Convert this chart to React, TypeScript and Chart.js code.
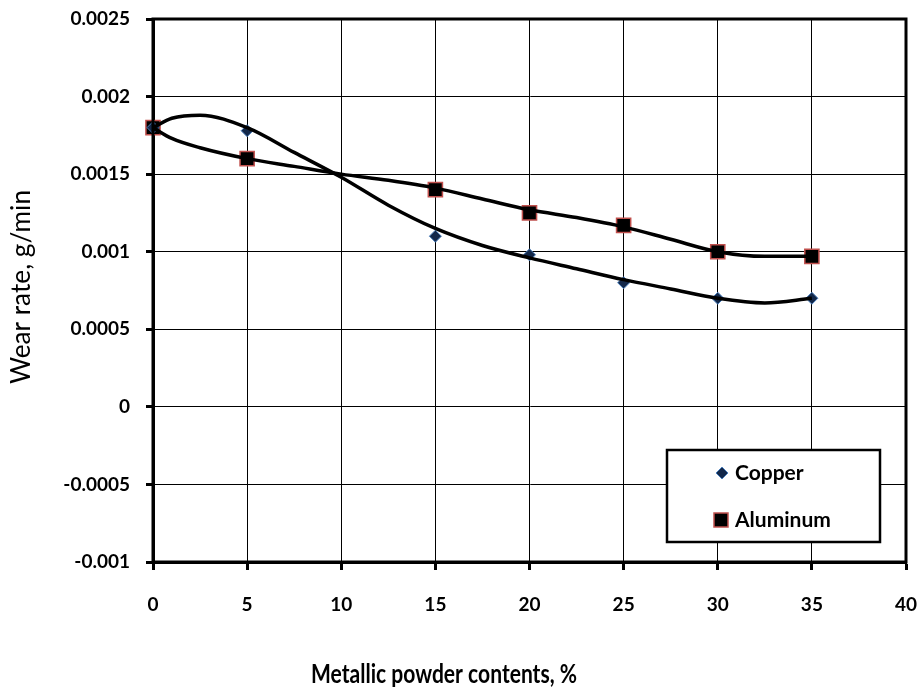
import React, { useEffect, useRef } from 'react';
import { Chart, registerables } from 'chart.js';

Chart.register(...registerables);

// Measured data points
const xValues = [0, 5, 15, 20, 25, 30, 35];
const copperValues = [0.0018, 0.00178, 0.0011, 0.00098, 0.0008, 0.0007, 0.0007];
const aluminumValues = [0.0018, 0.0016, 0.0014, 0.00125, 0.00117, 0.001, 0.00097];

// Trendline curves
const trendX = [0, 1, 2.5, 5, 7.5, 10, 12.5, 15, 17.5, 20, 22.5, 25, 27.5, 30, 32.5, 35];
const copperTrend = [0.0018, 0.00186, 0.00188, 0.0018, 0.00164, 0.00148, 0.0013, 0.00115, 0.00104, 0.00096, 0.00089, 0.00082, 0.00076, 0.0007, 0.00067, 0.0007];
const aluminumTrend = [0.0018, 0.00173, 0.00167, 0.0016, 0.00155, 0.0015, 0.00146, 0.00141, 0.00134, 0.00127, 0.00122, 0.00116, 0.00108, 0.001, 0.00097, 0.00097];

// Axis ticks
const xTicks = [0, 5, 10, 15, 20, 25, 30, 35, 40];
const yTicks = [-0.001, -0.0005, 0, 0.0005, 0.001, 0.0015, 0.002, 0.0025];
const yTickLabels = ['-0.001', '-0.0005', '0', '0.0005', '0.001', '0.0015', '0.002', '0.0025'];

const seriesLabels = ['Copper', 'Aluminum'];
const xTitle = 'Metallic powder contents, %';
const yTitle = 'Wear rate, g/min';

const FONT = 'Lato, "Open Sans", sans-serif';

function fittedText(ctx: any, text: string, font: string, cx: number, cy: number, targetW: number, rot: number) {
  ctx.save();
  ctx.font = font;
  const w = ctx.measureText(text).width;
  const s = targetW / w;
  ctx.translate(cx, cy);
  ctx.rotate(rot);
  ctx.scale(s, 1);
  ctx.textAlign = 'center';
  ctx.textBaseline = 'middle';
  ctx.fillStyle = '#000';
  ctx.fillText(text, 0, 0);
  ctx.restore();
}

const frameAndLegend = {
  id: 'frameAndLegend',
  afterDraw(chart: any) {
    const { ctx, chartArea } = chart;
    ctx.save();
    ctx.strokeStyle = '#000';
    ctx.lineWidth = 3;
    ctx.strokeRect(chartArea.left, chartArea.top, chartArea.right - chartArea.left, chartArea.bottom - chartArea.top);

    // legend box
    const lx = 667, ly = 450, lw = 213, lh = 92;
    ctx.fillStyle = '#fff';
    ctx.fillRect(lx, ly, lw, lh);
    ctx.lineWidth = 2.5;
    ctx.strokeRect(lx, ly, lw, lh);

    // copper marker
    const cx = 722, cy = 473;
    ctx.beginPath();
    ctx.moveTo(cx, cy - 6);
    ctx.lineTo(cx + 6, cy);
    ctx.lineTo(cx, cy + 6);
    ctx.lineTo(cx - 6, cy);
    ctx.closePath();
    ctx.fillStyle = '#13284a';
    ctx.fill();
    ctx.lineWidth = 1;
    ctx.strokeStyle = '#4a7ebb';
    ctx.stroke();

    // aluminum marker
    ctx.fillStyle = '#000';
    ctx.fillRect(714, 513, 14, 14);
    ctx.strokeStyle = '#c0504d';
    ctx.lineWidth = 1.5;
    ctx.strokeRect(714, 513, 14, 14);

    ctx.fillStyle = '#000';
    ctx.font = `bold 21px ${FONT}`;
    ctx.textAlign = 'left';
    ctx.textBaseline = 'middle';
    ctx.fillText(seriesLabels[0], 735, cy);
    ctx.fillText(seriesLabels[1], 735, 520);
    ctx.restore();

    // axis titles
    fittedText(ctx, xTitle, `bold 26px ${FONT}`, 444, 675, 266, 0);
    fittedText(ctx, yTitle, `26px ${FONT}`, 22, 287, 194, -Math.PI / 2);
  },
};

export default function App() {
  const ref = useRef<HTMLCanvasElement>(null);

  useEffect(() => {
    if (!ref.current) return;
    const chart = new Chart(ref.current, {
      type: 'scatter',
      data: {
        datasets: [
          {
            label: 'Copper trend',
            data: trendX.map((x, i) => ({ x, y: copperTrend[i] })),
            showLine: true,
            borderColor: '#000',
            borderWidth: 3.5,
            pointRadius: 0,
            cubicInterpolationMode: 'monotone',
          },
          {
            label: 'Aluminum trend',
            data: trendX.map((x, i) => ({ x, y: aluminumTrend[i] })),
            showLine: true,
            borderColor: '#000',
            borderWidth: 3.5,
            pointRadius: 0,
            cubicInterpolationMode: 'monotone',
          },
          {
            label: seriesLabels[0],
            data: xValues.map((x, i) => ({ x, y: copperValues[i] })),
            pointStyle: 'rectRot',
            pointRadius: 6,
            backgroundColor: '#13284a',
            borderColor: '#4a7ebb',
            borderWidth: 1,
            clip: false,
          },
          {
            label: seriesLabels[1],
            data: xValues.map((x, i) => ({ x, y: aluminumValues[i] })),
            pointStyle: 'rect',
            pointRadius: 10,
            backgroundColor: '#000',
            borderColor: '#c0504d',
            borderWidth: 1.5,
            clip: false,
          },
        ] as any,
      },
      options: {
        animation: false,
        responsive: false,
        layout: { padding: { top: 19, right: 18, left: 0, bottom: 0 } },
        plugins: {
          legend: { display: false },
          tooltip: { enabled: false },
        },
        scales: {
          x: {
            type: 'linear',
            min: 0,
            max: 40,
            afterBuildTicks: (scale: any) => {
              scale.ticks = xTicks.map((v) => ({ value: v }));
            },
            afterFit: (scale: any) => {
              scale.height = 129;
              scale.paddingLeft = 0;
              scale.paddingRight = 0;
            },
            ticks: {
              color: '#000',
              font: { family: FONT, size: 19, weight: 'bold' },
              padding: 23,
              maxRotation: 0,
              callback: (v: any) => String(v),
            },
            grid: {
              color: '#000',
              lineWidth: 1,
              tickLength: 8,
              tickWidth: 3,
              tickColor: '#000',
            },
            border: { color: '#000', width: 3 },
          },
          y: {
            type: 'linear',
            min: -0.001,
            max: 0.0025,
            afterBuildTicks: (scale: any) => {
              scale.ticks = yTicks.map((v) => ({ value: v }));
            },
            afterFit: (scale: any) => {
              scale.width = 153;
              scale.paddingTop = 0;
              scale.paddingBottom = 0;
            },
            ticks: {
              color: '#000',
              font: { family: FONT, size: 19, weight: 'bold' },
              padding: 16,
              callback: (v: any) => {
                const i = yTicks.findIndex((t) => Math.abs(t - v) < 1e-9);
                return i >= 0 ? yTickLabels[i] : '';
              },
            },
            grid: {
              color: '#000',
              lineWidth: 1,
              tickLength: 7,
              tickWidth: 3,
              tickColor: '#000',
            },
            border: { color: '#000', width: 3 },
          },
        },
      },
      plugins: [frameAndLegend],
    } as any);
    return () => chart.destroy();
  }, []);

  return (
    <div style={{ position: 'fixed', left: 0, top: 0, width: 924, height: 691, background: '#fff' }}>
      <canvas ref={ref} width={924} height={691} style={{ display: 'block' }} />
    </div>
  );
}
